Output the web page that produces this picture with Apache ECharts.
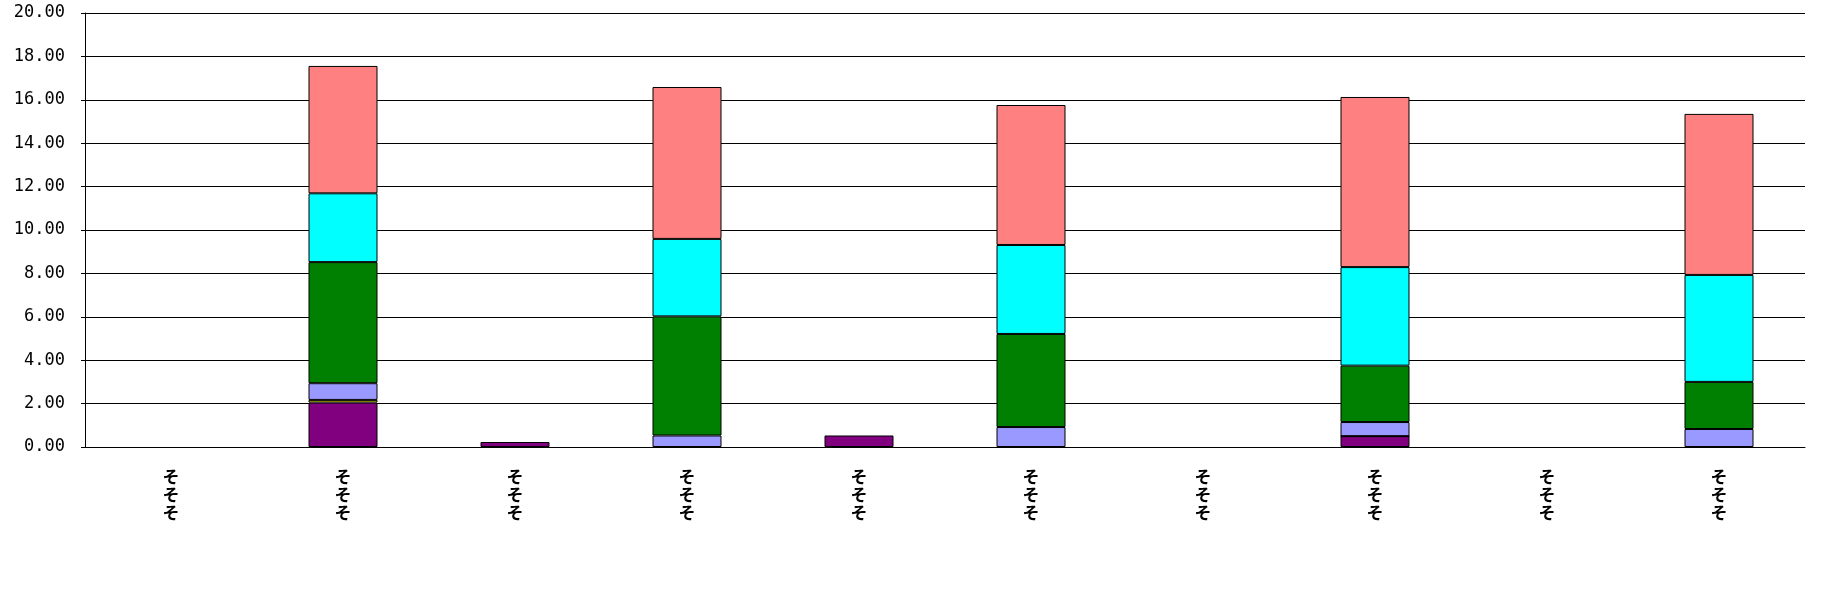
<!DOCTYPE html>
<html>
<head>
<meta charset="utf-8">
<script src="https://cdn.jsdelivr.net/npm/echarts@6/dist/echarts.min.js"></script>
<style>html,body{margin:0;padding:0;background:#fff;}#c{width:1848px;height:605px;}</style>
</head>
<body>
<div id="c"></div>
<script>
var categories = ['そそそ','そそそ','そそそ','そそそ','そそそ','そそそ','そそそ','そそそ','そそそ','そそそ'];
var seriesPurple   = [null, 2.05, 0.23, null, 0.53, null, null, 0.50, null, null];
var seriesYellow   = [null, 0.12, null, null, null, null, null, 0, null, null];
var seriesLavender = [null, 0.77, null, 0.53, null, 0.92, null, 0.65, null, 0.83];
var seriesGreen    = [null, 5.58, null, 5.49, null, 4.29, null, 2.60, null, 2.17];
var seriesCyan     = [null, 3.17, null, 3.57, null, 4.10, null, 4.54, null, 4.93];
var seriesSalmon   = [null, 5.87, null, 7.00, null, 6.45, null, 7.84, null, 7.42];

var layers = [
  {name:'s1', data: seriesPurple, color:'#800080'},
  {name:'s2', data: seriesYellow, color:'#FFFF00'},
  {name:'s3', data: seriesLavender, color:'#9999FF'},
  {name:'s4', data: seriesGreen, color:'#008000'},
  {name:'s5', data: seriesCyan, color:'#00FFFF'},
  {name:'s6', data: seriesSalmon, color:'#FF8080'}
];

var chart = echarts.init(document.getElementById('c'), null, {renderer:'canvas'});
chart.setOption({
  animation: false,
  backgroundColor: '#ffffff',
  grid: {left: 85, right: 43, top: 13, bottom: 158, containLabel: false},
  xAxis: {
    type: 'category',
    data: categories,
    axisLine: {show: true, lineStyle: {color: '#000', width: 1}},
    axisTick: {show: false},
    axisLabel: {
      interval: 0,
      margin: 21,
      color: '#000',
      fontFamily: '"Noto Sans CJK JP"',
      fontWeight: 'bold',
      fontSize: 17,
      lineHeight: 18,
      formatter: function (v) { return v.split('').join('\n'); }
    },
    splitLine: {show: false}
  },
  yAxis: {
    type: 'value',
    min: 0, max: 20, interval: 2,
    axisLine: {show: true, lineStyle: {color: '#000', width: 1}},
    axisTick: {show: true, length: 4, lineStyle: {color: '#000'}},
    axisLabel: {
      color: '#000',
      fontFamily: '"DejaVu Sans Mono", "Liberation Mono", monospace',
      fontSize: 17,
      margin: 20,
      formatter: function (v) { return v.toFixed(2); }
    },
    splitLine: {show: true, lineStyle: {color: '#000', width: 1}}
  },
  series: layers.map(function (l) {
    return {
      name: l.name,
      type: 'bar',
      stack: 'total',
      barWidth: 69,
      data: l.data,
      itemStyle: {color: l.color, borderColor: '#000', borderWidth: 1}
    };
  })
});
</script>
</body>
</html>
